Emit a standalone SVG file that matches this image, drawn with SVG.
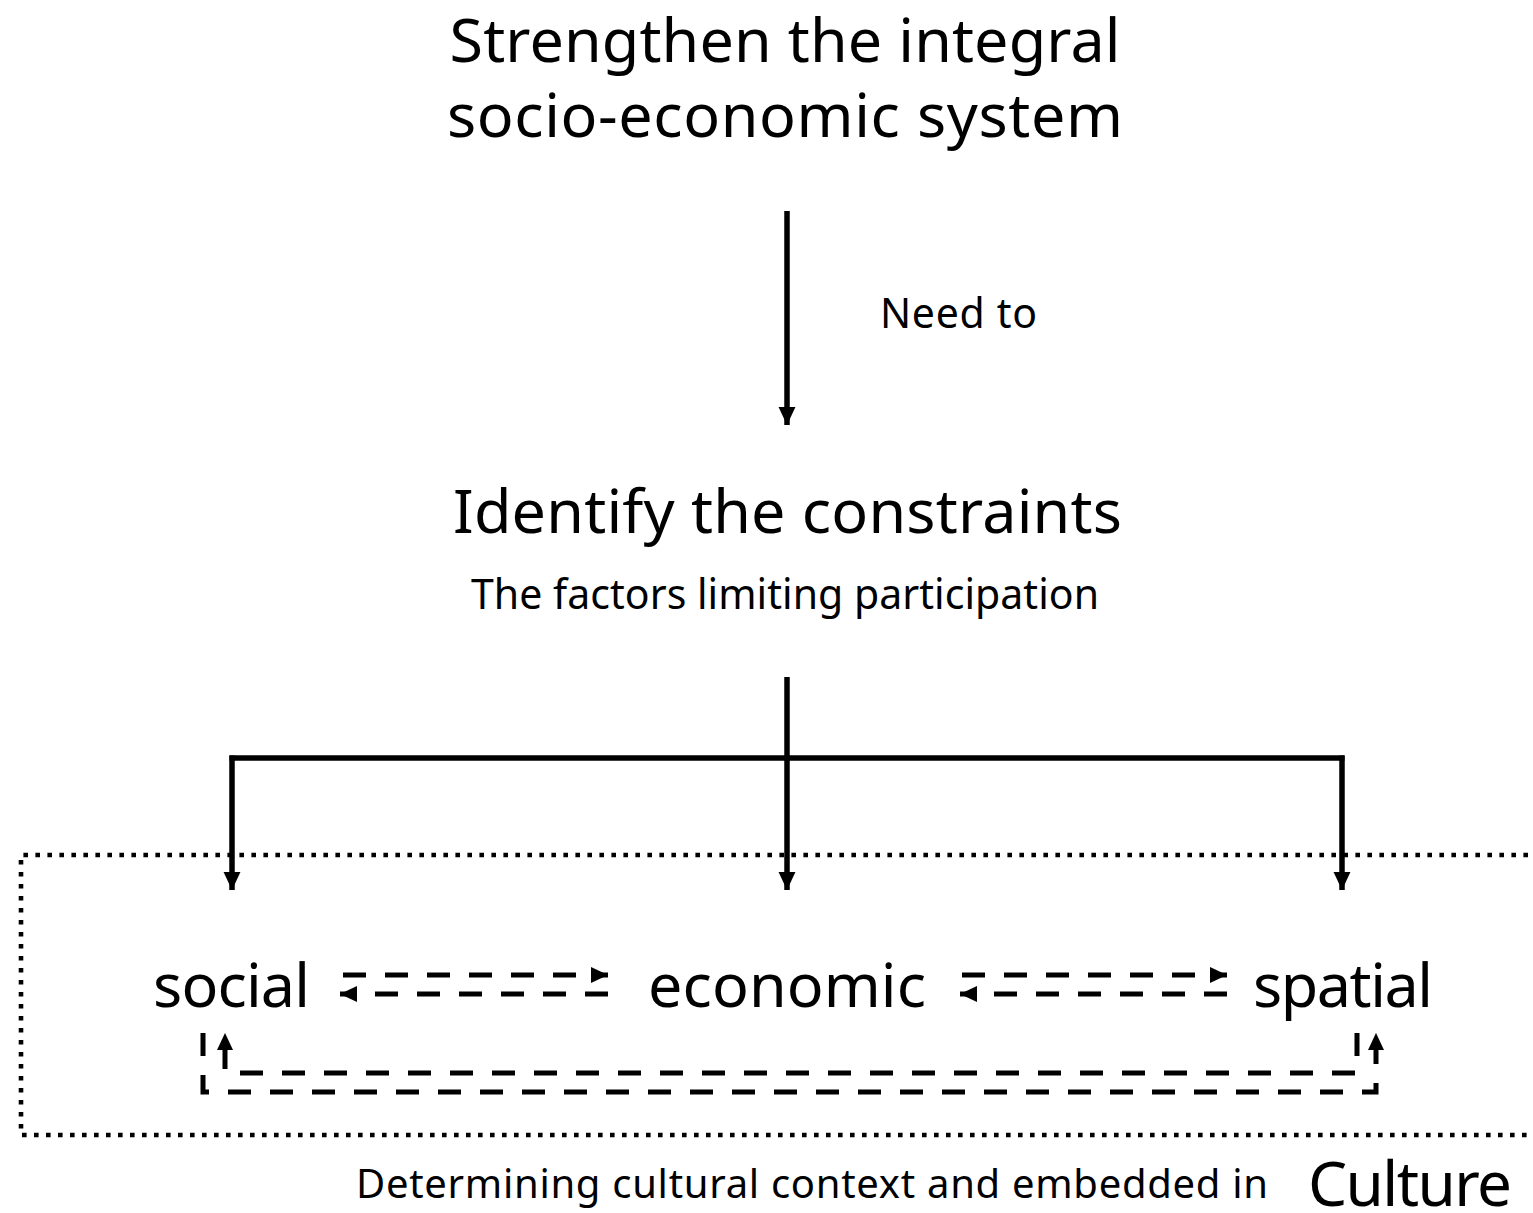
<svg xmlns="http://www.w3.org/2000/svg" width="1533" height="1213" viewBox="0 0 1533 1213">
<defs>
<style>
text{font-family:"Noto Sans","Open Sans","DejaVu Sans",sans-serif;fill:#000}
.big{font-size:61px}
.mid{font-size:41px}
.solid{stroke:#000;stroke-width:5.5;fill:none}
.dash{stroke:#000;stroke-width:5;fill:none;stroke-dasharray:23 19}
.dot{stroke:#000;stroke-width:4.6;fill:none;stroke-dasharray:4.6 7.4}
</style>
<marker id="ah" viewBox="0 0 10 10" refX="10" refY="5" markerWidth="18" markerHeight="18" markerUnits="userSpaceOnUse" orient="auto"><path d="M0,0.3L10,5L0,9.7z" fill="#000"/></marker>
<marker id="sh" viewBox="0 0 10 10" refX="10" refY="5" markerWidth="17" markerHeight="17" markerUnits="userSpaceOnUse" orient="auto"><path d="M0,0.3L10,5L0,9.7z" fill="#000"/></marker>
</defs>
<g id="culture-box">
<path class="dot" d="M1540,855H21V1135H1540"/>
</g>
<g id="goal"><text class="big" x="785" y="62" text-anchor="middle" textLength="671" lengthAdjust="spacing">Strengthen the integral</text><text class="big" x="785" y="137" text-anchor="middle" textLength="676" lengthAdjust="spacing">socio-economic system</text></g>
<g id="need-label"><text class="mid" x="880" y="328" textLength="157" lengthAdjust="spacing">Need to</text></g>
<g id="constraints"><text class="big" x="787.5" y="533" text-anchor="middle" textLength="669" lengthAdjust="spacing">Identify the constraints</text><text class="mid" x="785" y="609" text-anchor="middle" textLength="628" lengthAdjust="spacing">The factors limiting participation</text></g>
<g id="social"><text class="big" x="231.5" y="1007" text-anchor="middle" textLength="157" lengthAdjust="spacing">social</text></g>
<g id="economic"><text class="big" x="787" y="1007" text-anchor="middle" textLength="278" lengthAdjust="spacing">economic</text></g>
<g id="spatial"><text class="big" x="1343" y="1007" text-anchor="middle" textLength="180" lengthAdjust="spacing">spatial</text></g>
<g id="culture-label"><text x="356" y="1198" textLength="912" lengthAdjust="spacing" style="font-size:40px">Determining cultural context and embedded in</text><text x="1308" y="1206" textLength="204" lengthAdjust="spacing" style="font-size:62px">Culture</text></g>
<g id="connectors">
<line class="solid" x1="787" y1="211" x2="787" y2="425" marker-end="url(#ah)"/>
<line class="solid" x1="787" y1="677" x2="787" y2="890" marker-end="url(#ah)"/>
<line class="solid" x1="229.5" y1="758" x2="1344.5" y2="758"/>
<line class="solid" x1="232" y1="755.5" x2="232" y2="890" marker-end="url(#ah)"/>
<line class="solid" x1="1342" y1="755.5" x2="1342" y2="890" marker-end="url(#ah)"/>
<line class="dash" x1="343" y1="975" x2="608" y2="975" marker-end="url(#sh)"/>
<line class="dash" x1="608" y1="994" x2="340" y2="994" marker-end="url(#sh)"/>
<line class="dash" x1="962" y1="975" x2="1227" y2="975" marker-end="url(#sh)"/>
<line class="dash" x1="1227" y1="994" x2="960" y2="994" marker-end="url(#sh)"/>
<polyline class="dash" points="1357,1033 1357,1073 225,1073 225,1033" marker-end="url(#sh)"/>
<polyline class="dash" points="203,1033 203,1092 1376,1092 1376,1033" marker-end="url(#sh)"/>
</g>
</svg>
